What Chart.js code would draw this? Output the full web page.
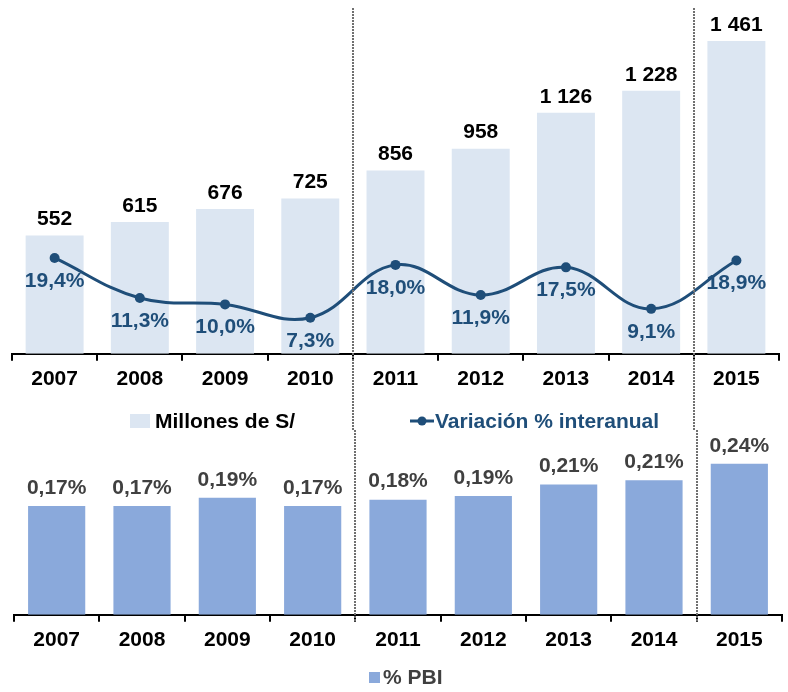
<!DOCTYPE html>
<html>
<head>
<meta charset="utf-8">
<script src="https://cdn.jsdelivr.net/npm/chart.js@4.4.1/dist/chart.umd.min.js"></script>
<style>
  body { margin: 0; background: #fff; }
  #wrap { position: relative; width: 788px; height: 692px; font-family: 'Liberation Sans', Arial, sans-serif; font-weight: bold; font-size: 21px; }
  #top { position: absolute; left: 0; top: 0; }
  #bottom { position: absolute; left: 0; top: 430px; }
  .leg { position: absolute; display: flex; align-items: center; white-space: nowrap; height: 24px; line-height: 24px; z-index: 2; }
</style>
</head>
<body>
<div id="wrap">
  <canvas id="top" width="788" height="430"></canvas>
  <canvas id="bottom" width="788" height="262"></canvas>

  <div class="leg" style="left:130px; top:409px; color:#000;">
    <span style="display:inline-block; width:20px; height:14px; background:#DCE6F2; margin-right:5px;"></span>Millones de S/
  </div>
  <div class="leg" style="left:410px; top:409px; color:#1F4E79;">
    <svg width="24" height="14" style="margin-right:1px;"><line x1="0" y1="7" x2="24" y2="7" stroke="#1F4E79" stroke-width="3"/><circle cx="12" cy="7" r="4.5" fill="#1F4E79"/></svg>Variación % interanual
  </div>
  <div class="leg" style="left:369px; top:665px; color:#404040;">
    <span style="display:inline-block; width:11px; height:11px; background:#8AA9DB; margin-right:3px;"></span>% PBI
  </div>
</div>

<script>
// data
const years = ['2007', '2008', '2009', '2010', '2011', '2012', '2013', '2014', '2015'];
const millones = [552, 615, 676, 725, 856, 958, 1126, 1228, 1461];
const variacion = [19.4, 11.3, 10.0, 7.3, 18.0, 11.9, 17.5, 9.1, 18.9];
const pbi = [0.173, 0.173, 0.186, 0.173, 0.183, 0.189, 0.207, 0.214, 0.240];
const separatorsAfter = [3, 7]; // dotted line after 2010 and after 2014

const FONT = { family: "'Liberation Sans', Arial, sans-serif", size: 21, weight: 'bold' };

function fmtThousands(v) {
  return String(v).replace(/\B(?=(\d{3})+(?!\d))/g, ' ');
}
function fmtPct(d) {
  return function (v) { return v.toFixed(d).replace('.', ',') + '%'; };
}

// labels above bars / below points
const valueLabels = {
  id: 'valueLabels',
  afterDatasetsDraw(chart, args, opts) {
    const ctx = chart.ctx;
    ctx.save();
    ctx.font = 'bold 21px "Liberation Sans", Arial, sans-serif';
    ctx.textAlign = 'center';
    ctx.textBaseline = 'middle';
    opts.sets.forEach(s => {
      const meta = chart.getDatasetMeta(s.index);
      const data = chart.data.datasets[s.index].data;
      ctx.fillStyle = s.color;
      meta.data.forEach((el, j) => {
        ctx.fillText(s.fmt(data[j]), el.x, el.y + s.offset);
      });
    });
    ctx.restore();
  }
};

// dotted separators between groups of years
const separators = {
  id: 'separators',
  afterDraw(chart, args, opts) {
    const x = chart.scales.x;
    const ctx = chart.ctx;
    ctx.save();
    ctx.strokeStyle = '#707070';
    ctx.lineWidth = 2;
    ctx.setLineDash([2, 1]);
    const y0 = opts.fromTop ? chart.chartArea.top : 0;
    const y1 = opts.fromTop ? chart.height : chart.chartArea.bottom + 7;
    separatorsAfter.forEach(i => {
      const px = Math.round((x.getPixelForValue(i) + x.getPixelForValue(i + 1)) / 2);
      ctx.beginPath();
      ctx.moveTo(px, y0);
      ctx.lineTo(px, y1);
      ctx.stroke();
    });
    ctx.restore();
  }
};

function xAxis() {
  return {
    grid: { display: true, drawOnChartArea: false, color: '#000', lineWidth: 2, tickLength: 7, offset: true },
    border: { color: '#000', width: 2 },
    ticks: { color: '#000', font: FONT, padding: 6, maxRotation: 0, autoSkip: false }
  };
}

new Chart(document.getElementById('top'), {
  type: 'bar',
  data: {
    labels: years,
    datasets: [
      {
        type: 'line',
        label: 'Variación % interanual',
        data: variacion,
        yAxisID: 'y2',
        borderColor: '#1F4E79',
        backgroundColor: '#1F4E79',
        borderWidth: 3,
        pointRadius: 5,
        pointBackgroundColor: '#1F4E79',
        pointBorderWidth: 0,
        tension: 0.4,
        order: 0
      },
      {
        label: 'Millones de S/',
        data: millones,
        yAxisID: 'y',
        backgroundColor: '#DCE6F2',
        barPercentage: 0.68,
        categoryPercentage: 1.0,
        order: 1
      }
    ]
  },
  options: {
    responsive: false,
    animation: false,
    layout: { padding: { left: 12, right: 9, top: 8, bottom: 32 } },
    plugins: {
      legend: { display: false },
      tooltip: { enabled: false },
      valueLabels: {
        sets: [
          { index: 1, color: '#000', offset: -16, fmt: fmtThousands },
          { index: 0, color: '#1F4E79', offset: 23, fmt: fmtPct(1) }
        ]
      },
      separators: { fromTop: true }
    },
    scales: {
      x: xAxis(),
      y: { display: false, min: 0, max: 1615 },
      y2: { display: false, min: 0, max: 70 }
    }
  },
  plugins: [valueLabels, separators]
});

new Chart(document.getElementById('bottom'), {
  type: 'bar',
  data: {
    labels: years,
    datasets: [{
      label: '% PBI',
      data: pbi,
      backgroundColor: '#8AA9DB',
      barPercentage: 0.67,
      categoryPercentage: 1.0
    }]
  },
  options: {
    responsive: false,
    animation: false,
    layout: { padding: { left: 14, right: 6, top: 20, bottom: 33 } },
    plugins: {
      legend: { display: false },
      tooltip: { enabled: false },
      valueLabels: {
        sets: [{ index: 0, color: '#404040', offset: -18, fmt: fmtPct(2) }]
      },
      separators: { fromTop: false }
    },
    scales: {
      x: xAxis(),
      y: { display: false, min: 0, max: 0.262 }
    }
  },
  plugins: [valueLabels, separators]
});
</script>
</body>
</html>
